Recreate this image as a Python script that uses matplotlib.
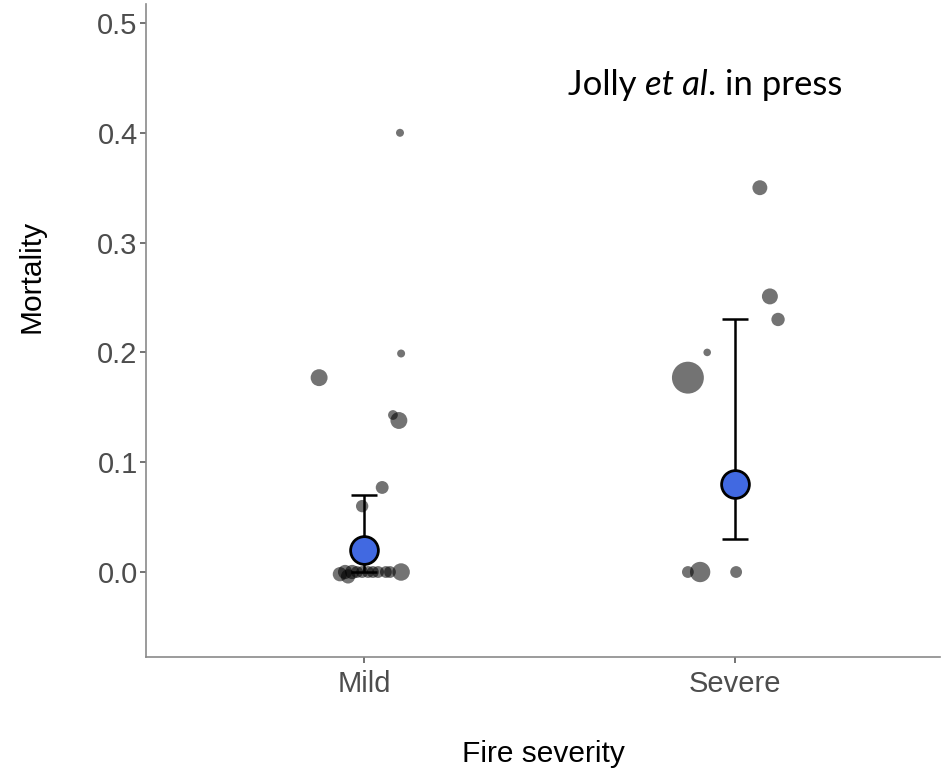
import matplotlib.pyplot as plt
import numpy as np

# Fire severity groups
categories = ["Mild", "Severe"]

# raw observations (jittered x position, mortality, relative weight)
mild_x = [1.097, 1.100, 0.879, 1.078, 1.094, 1.049, 0.995,
          0.935, 0.949, 0.957, 0.968, 0.981, 0.995, 1.011, 1.024,
          1.038, 1.059, 1.070, 1.100]
mild_y = [0.400, 0.199, 0.177, 0.143, 0.138, 0.077, 0.060,
          -0.002, 0.0, -0.004, 0.0, 0.0, 0.0, 0.0, 0.0,
          0.0, 0.0, 0.0, 0.0]
mild_w = [1, 1, 4.5, 1.5, 4.5, 2.6, 2.4,
          3.2, 3.2, 3.2, 3.2, 2.2, 2.2, 2.2, 2.2,
          2.2, 2.2, 2.2, 4.8]

severe_x = [2.067, 2.094, 2.116, 1.925, 1.873, 1.873, 1.906, 2.003]
severe_y = [0.350, 0.251, 0.230, 0.200, 0.177, 0.0, 0.0, 0.0]
severe_w = [3.5, 4, 2.8, 0.9, 16, 2.2, 6.5, 2.2]

# model estimates with intervals
est_x = [1, 2]
est_mean = [0.02, 0.08]
est_low = [0.0, 0.03]
est_high = [0.07, 0.23]

fig = plt.figure(figsize=(9.42, 7.71), dpi=100)
ax = fig.add_axes([146 / 942, 114 / 771, 794 / 942, 653 / 771])

area = 33  # marker area per unit weight
ax.scatter(mild_x, mild_y, s=np.array(mild_w) * area, color="black",
           alpha=0.55, linewidths=0, zorder=2)
ax.scatter(severe_x, severe_y, s=np.array(severe_w) * area, color="black",
           alpha=0.55, linewidths=0, zorder=2)

yerr = [np.array(est_mean) - np.array(est_low), np.array(est_high) - np.array(est_mean)]
ax.errorbar(est_x, est_mean, yerr=yerr, fmt="none", ecolor="black",
            elinewidth=1.8, capsize=9.4, capthick=1.8, zorder=3)
ax.scatter(est_x, est_mean, s=400, color="#4169E1", edgecolors="black",
           linewidths=2, zorder=4)

ax.set_xlim(0.4124, 2.5525)
ax.set_ylim(-0.0774, 0.5173)
ax.set_xticks([1, 2])
ax.set_xticklabels(categories)
ax.set_yticks(np.arange(0, 0.51, 0.1))
ax.set_yticklabels(["0.0", "0.1", "0.2", "0.3", "0.4", "0.5"])

for side in ["top", "right"]:
    ax.spines[side].set_visible(False)
for side in ["left", "bottom"]:
    ax.spines[side].set_color("#8a8a8a")
    ax.spines[side].set_linewidth(1.2)
ax.tick_params(colors="#4d4d4d", length=4, width=1.1, labelsize=21, pad=2)
ax.tick_params(axis="x", pad=5)
for lab in ax.get_xticklabels() + ax.get_yticklabels():
    lab.set_fontfamily("Liberation Sans")

ax.set_xlabel("Fire severity", fontsize=21.5, family="Liberation Sans", va="center")
ax.set_ylabel("Mortality", fontsize=21.5, family="Liberation Sans", va="center")
ax.xaxis.set_label_coords(0.5, -0.148)
ax.yaxis.set_label_coords(-0.1436, 0.583)

# citation note, with the italic part
t1 = ax.text(1.55, 0.4435, "Jolly ", fontsize=25, family="Lato", va="center")
t2 = ax.annotate("et al", xy=(1, 0), xycoords=t1, va="bottom", fontsize=25,
                 family="Lato", style="italic")
ax.annotate(". in press", xy=(1, 0), xycoords=t2, va="bottom", fontsize=25,
            family="Lato")

fig.savefig("out.png", dpi=100)
